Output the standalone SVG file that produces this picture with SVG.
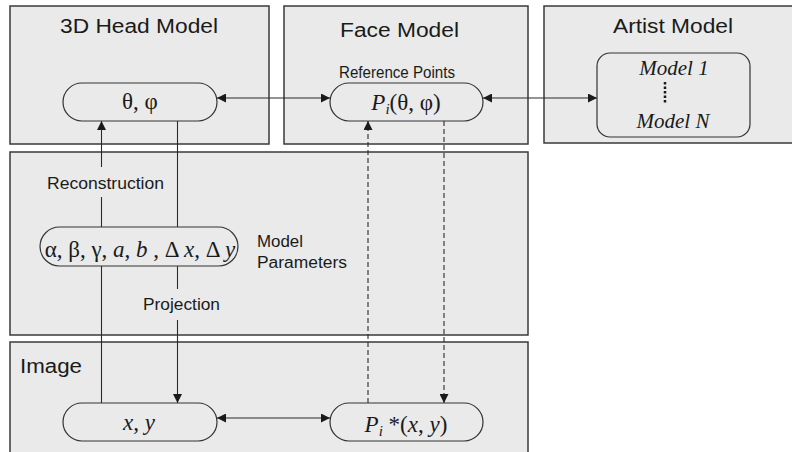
<svg xmlns="http://www.w3.org/2000/svg" width="792" height="452" viewBox="0 0 792 452">
  <defs>
    <marker id="arrow" viewBox="0 0 10 10" refX="10" refY="5" markerWidth="9" markerHeight="9" markerUnits="userSpaceOnUse" orient="auto-start-reverse">
      <path d="M0,0 L10,5 L0,10 Z" fill="#1a1a1a"/>
    </marker>
    <style>
      .panel { fill: #e9eae9; stroke: #3a3a3a; stroke-width: 1.5; }
      .node { fill: none; stroke: #333; stroke-width: 1.2; }
      .title { font-family: "Liberation Sans", Arial, sans-serif; font-size: 20px; fill: #1a1a1a; }
      .label { font-family: "Liberation Sans", Arial, sans-serif; font-size: 16px; fill: #1a1a1a; }
      .math { font-family: "Liberation Serif", "Times New Roman", serif; font-size: 23px; fill: #1a1a1a; }
      .small { font-size: 21px; }
      .it { font-style: italic; }
      .conn { fill: none; stroke: #2a2a2a; stroke-width: 1.1; }
      .dash { stroke-dasharray: 5 3; }
    </style>
  </defs>

  <!-- Panels -->
  <g id="panels">
    <rect id="panel-head" class="panel" x="10" y="6" width="259" height="138"/>
    <rect id="panel-face" class="panel" x="284" y="6" width="244" height="138"/>
    <rect id="panel-artist" class="panel" x="544" y="6" width="260" height="137"/>
    <rect id="panel-params" class="panel" x="10" y="152" width="518" height="183"/>
    <rect id="panel-image" class="panel" x="10" y="342" width="518" height="120"/>
    <text class="title" x="60" y="33" textLength="158" lengthAdjust="spacingAndGlyphs">3D Head Model</text>
    <text class="title" x="340" y="37" textLength="119" lengthAdjust="spacingAndGlyphs">Face Model</text>
    <text class="title" x="613" y="33" textLength="120" lengthAdjust="spacingAndGlyphs">Artist Model</text>
    <text class="title" x="20" y="373" textLength="62" lengthAdjust="spacingAndGlyphs">Image</text>
    <text class="label" x="257" y="247" textLength="46" lengthAdjust="spacingAndGlyphs">Model</text>
    <text class="label" x="257" y="268" textLength="90" lengthAdjust="spacingAndGlyphs">Parameters</text>
  </g>

  <!-- Connectors -->
  <g id="connectors">
    <!-- Reconstruction: x,y up to theta,phi -->
    <line class="conn" x1="101.5" y1="403" x2="101.5" y2="266"/>
    <line class="conn" x1="101.5" y1="227" x2="101.5" y2="197"/>
    <line class="conn" x1="101.5" y1="167" x2="101.5" y2="121" marker-end="url(#arrow)"/>
    <text class="label" x="47" y="189" textLength="117" lengthAdjust="spacingAndGlyphs">Reconstruction</text>
    <!-- Projection: theta,phi down to x,y -->
    <line class="conn" x1="177.5" y1="121" x2="177.5" y2="227"/>
    <line class="conn" x1="177.5" y1="266" x2="177.5" y2="289"/>
    <line class="conn" x1="177.5" y1="320" x2="177.5" y2="403" marker-end="url(#arrow)"/>
    <text class="label" x="143" y="310" textLength="77" lengthAdjust="spacingAndGlyphs">Projection</text>
    <!-- Horizontal two-way links -->
    <line class="conn" x1="217" y1="98" x2="330" y2="98" marker-start="url(#arrow)" marker-end="url(#arrow)"/>
    <line class="conn" x1="483" y1="98" x2="597" y2="98" marker-start="url(#arrow)" marker-end="url(#arrow)"/>
    <line class="conn" x1="217" y1="418" x2="330" y2="418" marker-start="url(#arrow)" marker-end="url(#arrow)"/>
    <!-- Dashed reference point links -->
    <line class="conn dash" x1="368" y1="403" x2="368" y2="121" marker-end="url(#arrow)"/>
    <line class="conn dash" x1="444" y1="121" x2="444" y2="403" marker-end="url(#arrow)"/>
  </g>

  <!-- Nodes -->
  <g id="node-angles">
    <rect class="node" x="63" y="83" width="154" height="38" rx="19"/>
    <text class="math" x="140" y="109" text-anchor="middle">θ, φ</text>
  </g>

  <g id="node-reference">
    <rect class="node" x="330" y="83" width="153" height="38" rx="19"/>
    <text class="label" x="339" y="78" textLength="116" lengthAdjust="spacingAndGlyphs">Reference Points</text>
    <text class="math" x="406" y="110" text-anchor="middle"><tspan class="it">P</tspan><tspan class="it" font-size="15" dy="4">i</tspan><tspan dy="-4">(θ, φ)</tspan></text>
  </g>

  <g id="node-artist">
    <rect class="node" x="597" y="53" width="153" height="84" rx="13"/>
    <text class="math small it" x="674" y="75" text-anchor="middle">Model 1</text>
    <line x1="665" y1="82" x2="665" y2="103" stroke="#1a1a1a" stroke-width="2.5" stroke-dasharray="2.5 2"/>
    <text class="math small it" x="673" y="128" text-anchor="middle">Model N</text>
  </g>

  <g id="node-params">
    <rect class="node" x="40" y="227" width="198" height="39" rx="19.5"/>
    <text class="math" x="140" y="257" text-anchor="middle" font-size="21">α, β, γ, <tspan class="it">a</tspan>, <tspan class="it">b</tspan> , Δ <tspan class="it">x</tspan>, Δ <tspan class="it">y</tspan></text>
  </g>

  <g id="node-image-xy">
    <rect class="node" x="63" y="403" width="154" height="38" rx="19"/>
    <text class="math it" x="139" y="430" text-anchor="middle">x, y</text>
  </g>

  <g id="node-image-ref">
    <rect class="node" x="330" y="403" width="153" height="38" rx="19"/>
    <text class="math" x="406" y="432" text-anchor="middle"><tspan class="it">P</tspan><tspan class="it" font-size="15" dy="4">i</tspan><tspan dy="-4"> *(</tspan><tspan class="it">x</tspan>, <tspan class="it">y</tspan>)</text>
  </g>
</svg>
